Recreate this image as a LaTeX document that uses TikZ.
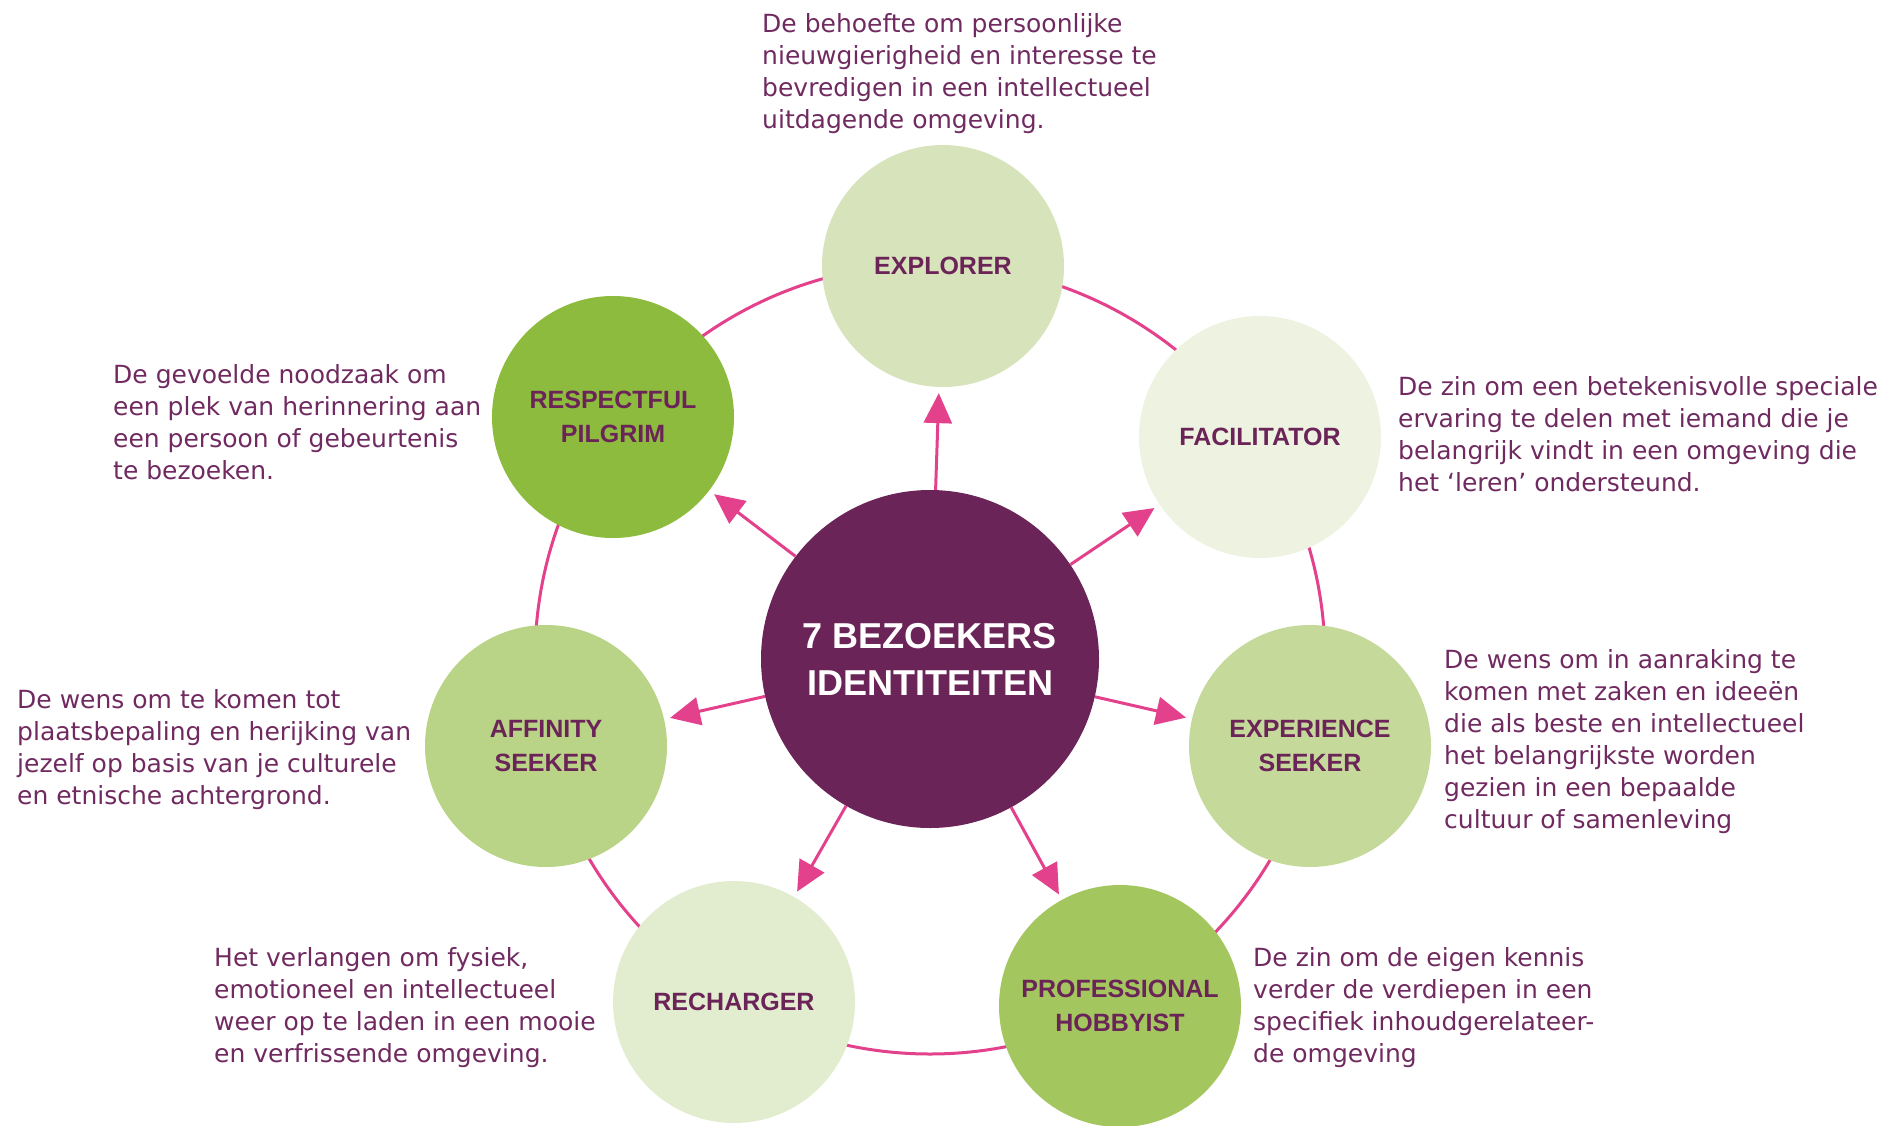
\documentclass[tikz,border=0pt]{standalone}
\usepackage{fontspec}
\setmainfont{DejaVu Sans}
\newfontfamily\labfont{Liberation Sans}
\usepackage{xcolor}
\usetikzlibrary{arrows.meta}

\definecolor{hubpurple}{HTML}{6B2458}
\definecolor{desctext}{HTML}{702A60}
\definecolor{linkpink}{HTML}{E3418C}
\definecolor{gExplorer}{HTML}{D7E4BB}
\definecolor{gFacil}{HTML}{EDF3E0}
\definecolor{gExper}{HTML}{C5DA9A}
\definecolor{gHobby}{HTML}{A3C75E}
\definecolor{gRecharge}{HTML}{E2EDCF}
\definecolor{gAffin}{HTML}{B9D486}
\definecolor{gPilgrim}{HTML}{8DBB3E}

\begin{document}
\begin{tikzpicture}[x=1pt,y=-1pt]
  \tikzstyle{blob}=[circle, minimum size=242pt, inner sep=0pt, align=center, text=hubpurple, font=\labfont\bfseries\fontsize{25}{34}\selectfont]
  \tikzstyle{hub}=[circle, fill=hubpurple, minimum size=338pt, inner sep=0pt, align=center, text=white, font=\labfont\bfseries\fontsize{36}{47}\selectfont]
  \tikzstyle{desc}=[anchor=north west, inner sep=0pt, align=left, text=desctext, font=\fontsize{25}{32}\selectfont]
  \tikzstyle{arr}=[draw=linkpink, line width=3pt, -{Triangle[length=30pt,width=28pt]}, shorten >=6pt]
  \tikzstyle{rim}=[draw=linkpink, line width=3pt]

  \useasboundingbox (0,0) rectangle (1893,1125);
  \coordinate (O) at (930,659);
  \draw[rim] (O) circle (395);

  % the seven identities round the hub
  \node[hub] (M) at (O) {7 BEZOEKERS\\IDENTITEITEN};
  \node[blob, fill=gExplorer] (E) at (943,266) {EXPLORER};
  \node[blob, fill=gFacil] (F) at (1260,437) {FACILITATOR};
  \node[blob, fill=gExper] (X) at (1310,746) {EXPERIENCE\\SEEKER};
  \node[blob, fill=gHobby] (H) at (1120,1006) {PROFESSIONAL\\HOBBYIST};
  \node[blob, fill=gRecharge] (R) at (734,1002) {RECHARGER};
  \node[blob, fill=gAffin] (A) at (546,746) {AFFINITY\\SEEKER};
  \node[blob, fill=gPilgrim] (P) at (613,417) {RESPECTFUL\\PILGRIM};

  \path
    (M) edge[arr] (E)
    (M) edge[arr] (F)
    (M) edge[arr] (X)
    (M) edge[arr] (H)
    (M) edge[arr] (R)
    (M) edge[arr] (A)
    (M) edge[arr] (P);

  % descriptions
  \node[desc] (dE) at (762,13) {De behoefte om persoonlijke\\nieuwgierigheid en interesse te\\bevredigen in een intellectueel\\uitdagende omgeving.};
  \node[desc] (dF) at (1398,376) {De zin om een betekenisvolle speciale\\ervaring te delen met iemand die je\\belangrijk vindt in een omgeving die\\het ‘leren’ ondersteund.};
  \node[desc] (dX) at (1444,649) {De wens om in aanraking te\\komen met zaken en ideeën\\die als beste en intellectueel\\het belangrijkste worden\\gezien in een bepaalde\\cultuur of samenleving};
  \node[desc] (dH) at (1253,947) {De zin om de eigen kennis\\verder de verdiepen in een\\specifiek inhoudgerelateer-\\de omgeving};
  \node[desc] (dR) at (214,947) {Het verlangen om fysiek,\\emotioneel en intellectueel\\weer op te laden in een mooie\\en verfrissende omgeving.};
  \node[desc] (dA) at (17,689) {De wens om te komen tot\\plaatsbepaling en herijking van\\jezelf op basis van je culturele\\en etnische achtergrond.};
  \node[desc] (dP) at (113,364) {De gevoelde noodzaak om\\een plek van herinnering aan\\een persoon of gebeurtenis\\te bezoeken.};
\end{tikzpicture}
\end{document}
